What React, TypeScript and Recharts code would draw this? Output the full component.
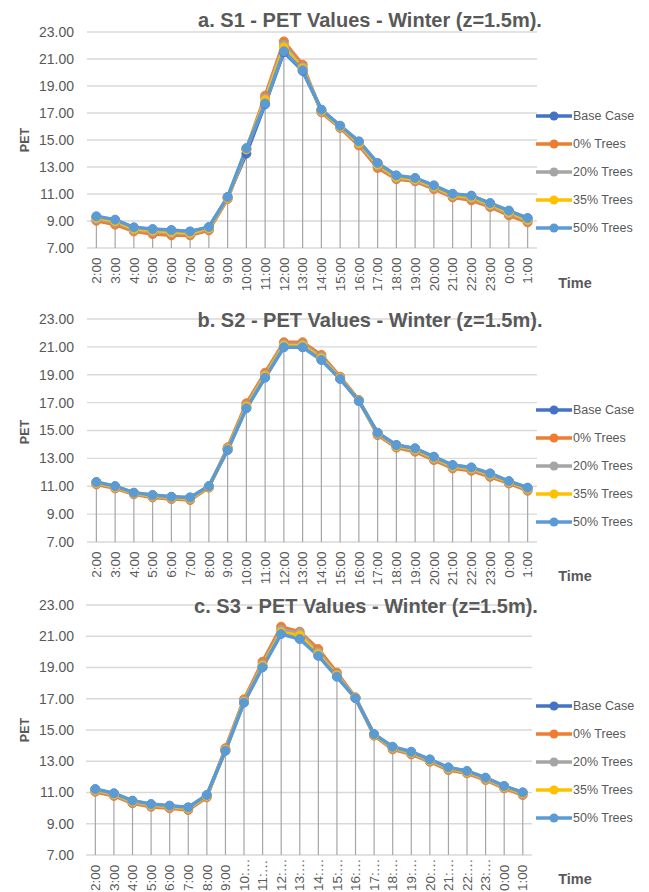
import React from "react";
import { Bar, CartesianGrid, ComposedChart, Line, XAxis, YAxis } from "recharts";

const FONT = "'Liberation Sans', Arial, sans-serif";
const TEXT = "#595959";

const hours = [
  "2:00", "3:00", "4:00", "5:00", "6:00", "7:00", "8:00", "9:00", "10:00", "11:00", "12:00", "13:00",
  "14:00", "15:00", "16:00", "17:00", "18:00", "19:00", "20:00", "21:00", "22:00", "23:00", "0:00", "1:00"
];
const yTicks = [7, 9, 11, 13, 15, 17, 19, 21, 23];

const seriesNames = ["Base Case", "0% Trees", "20% Trees", "35% Trees", "50% Trees"];
const seriesColors = ["#4472c4", "#ed7d31", "#a5a5a5", "#ffc000", "#5b9bd5"];

// S1
const s1Base = [9.3, 9.05, 8.5, 8.37, 8.3, 8.2, 8.53, 10.76, 13.99, 17.65, 21.5, 20.12, 17.22, 16.03, 14.86, 13.26, 12.35, 12.16, 11.6, 10.99, 10.85, 10.3, 9.74, 9.19];
const s1Trees0 = [9.02, 8.73, 8.23, 8.04, 7.94, 7.94, 8.31, 10.63, 14.3, 18.28, 22.3, 20.58, 17.05, 15.9, 14.6, 12.93, 12.1, 11.94, 11.37, 10.75, 10.53, 10.04, 9.42, 8.9];
const s1Trees20 = [9.15, 8.9, 8.35, 8.2, 8.1, 8.05, 8.42, 10.7, 14.3, 18.1, 22.05, 20.4, 17.12, 15.97, 14.72, 13.1, 12.2, 12.03, 11.48, 10.86, 10.68, 10.15, 9.55, 9.02];
const s1Trees35 = [9.25, 9.0, 8.43, 8.3, 8.2, 8.12, 8.48, 10.72, 14.35, 17.95, 21.85, 20.3, 17.18, 16.0, 14.8, 13.2, 12.28, 12.1, 11.55, 10.93, 10.78, 10.23, 9.65, 9.1];
const s1Trees50 = [9.35, 9.1, 8.53, 8.4, 8.33, 8.23, 8.56, 10.78, 14.4, 17.7, 21.57, 20.17, 17.25, 16.06, 14.9, 13.3, 12.38, 12.19, 11.64, 11.02, 10.88, 10.33, 9.77, 9.22];

// S2
const s2Base = [11.28, 10.99, 10.52, 10.35, 10.23, 10.18, 11.0, 13.62, 16.62, 18.82, 21.0, 21.0, 20.1, 18.72, 17.12, 14.82, 13.94, 13.7, 13.1, 12.5, 12.33, 11.9, 11.35, 10.88];
const s2Trees0 = [11.13, 10.85, 10.42, 10.2, 10.08, 10.01, 10.9, 13.79, 16.95, 19.15, 21.33, 21.33, 20.42, 18.86, 17.19, 14.67, 13.77, 13.48, 12.88, 12.28, 12.11, 11.68, 11.2, 10.68];
const s2Trees20 = [11.2, 10.92, 10.47, 10.27, 10.15, 10.09, 10.94, 13.72, 16.8, 19.0, 21.18, 21.18, 20.27, 18.79, 17.15, 14.74, 13.85, 13.58, 12.98, 12.38, 12.21, 11.78, 11.27, 10.77];
const s2Trees35 = [11.25, 10.96, 10.5, 10.32, 10.2, 10.14, 10.97, 13.66, 16.7, 18.9, 21.08, 21.08, 20.17, 18.75, 17.13, 14.79, 13.9, 13.65, 13.05, 12.45, 12.28, 11.85, 11.32, 10.83];
const s2Trees50 = [11.3, 11.01, 10.54, 10.37, 10.25, 10.2, 11.01, 13.6, 16.59, 18.79, 20.97, 20.97, 20.06, 18.7, 17.11, 14.84, 13.96, 13.72, 13.12, 12.52, 12.35, 11.92, 11.37, 10.9];

// S3
const s3Base = [11.2, 10.93, 10.46, 10.24, 10.14, 10.03, 10.82, 13.68, 16.77, 19.05, 21.18, 20.88, 19.8, 18.44, 17.04, 14.72, 13.9, 13.58, 13.1, 12.58, 12.36, 11.93, 11.4, 10.99];
const s3Trees0 = [11.05, 10.78, 10.31, 10.09, 9.99, 9.88, 10.69, 13.83, 16.96, 19.37, 21.61, 21.29, 20.18, 18.67, 17.09, 14.64, 13.76, 13.44, 12.97, 12.44, 12.23, 11.8, 11.27, 10.84];
const s3Trees20 = [11.12, 10.85, 10.38, 10.16, 10.06, 9.95, 10.75, 13.76, 16.87, 19.2, 21.4, 21.2, 19.98, 18.55, 17.06, 14.68, 13.83, 13.51, 13.03, 12.51, 12.29, 11.86, 11.33, 10.91];
const s3Trees35 = [11.17, 10.9, 10.43, 10.21, 10.11, 10.0, 10.79, 13.71, 16.8, 19.1, 21.25, 21.05, 19.85, 18.48, 17.05, 14.71, 13.88, 13.56, 13.07, 12.56, 12.33, 11.9, 11.37, 10.96];
const s3Trees50 = [11.22, 10.95, 10.48, 10.26, 10.16, 10.05, 10.84, 13.66, 16.75, 19.01, 21.14, 20.82, 19.74, 18.41, 17.03, 14.74, 13.93, 13.61, 13.12, 12.61, 12.38, 11.95, 11.42, 11.01];

const panels = [
  {
    title: "a. S1 - PET Values - Winter (z=1.5m).",
    series: [s1Base, s1Trees0, s1Trees20, s1Trees35, s1Trees50],
    top: 0, height: 295, plotTop: 32, plotBottom: 248, left: 87, right: 112, axisHeight: 40, tickDy: 1.5,
    truncate: false, titleX: 370, titleY: 20, legendY: 116, timeY: 283, petY: 140
  },
  {
    title: "b. S2 - PET Values - Winter (z=1.5m).",
    series: [s2Base, s2Trees0, s2Trees20, s2Trees35, s2Trees50],
    top: 295, height: 295, plotTop: 24, plotBottom: 247, left: 87, right: 112, axisHeight: 40, tickDy: 1.5,
    truncate: false, titleX: 370, titleY: 25, legendY: 115, timeY: 281, petY: 137
  },
  {
    title: "c. S3 - PET Values - Winter (z=1.5m).",
    series: [s3Base, s3Trees0, s3Trees20, s3Trees35, s3Trees50],
    top: 590, height: 302, plotTop: 15, plotBottom: 265, left: 86, right: 117, axisHeight: 30, tickDy: 28,
    truncate: true, titleX: 366, titleY: 16, legendY: 116, timeY: 289, petY: 140
  }
];

const keys = ["base", "t0", "t20", "t35", "t50"];

// panel c has cramped labels: excel cuts them and lines them up at the bottom
function HourTick(props: any) {
  const { x, y, payload, truncate, dy } = props;
  let label = String(payload.value);
  if (truncate && label.length >= 5) label = label.slice(0, 3) + "\u2026";
  const ty = y + dy;
  return (
    <text
      x={0}
      y={0}
      transform={`translate(${x}, ${ty}) rotate(-90)`}
      textAnchor={truncate ? "start" : "end"}
      dy="0.35em"
      fill={TEXT}
      fontSize={13.5}
      fontFamily={FONT}
    >
      {label}
    </text>
  );
}

function DropLine(props: any) {
  const { x, y, width, height } = props;
  const cx = x + width / 2;
  return <line x1={cx} x2={cx} y1={y} y2={y + height} stroke="#a6a6a6" strokeWidth={1.2} />;
}

function Panel({ cfg }: { cfg: any }) {
  const rows = hours.map((h, i) => {
    const row: any = { hour: h };
    keys.forEach((k, s) => (row[k] = cfg.series[s][i]));
    row.top = Math.max(...cfg.series.map((s: number[]) => s[i]));
    return row;
  });

  return (
    <div style={{ position: "absolute", left: 0, top: cfg.top, width: 649, height: cfg.height }}>
      <ComposedChart
        width={649}
        height={cfg.height}
        data={rows}
        margin={{ top: cfg.plotTop, right: cfg.right, left: 0, bottom: cfg.height - cfg.plotBottom - cfg.axisHeight }}
        style={{ overflow: "visible" }}
      >
        <CartesianGrid vertical={false} stroke="#d9d9d9" strokeWidth={1.3} />
        <XAxis
          dataKey="hour"
          interval={0}
          axisLine={false}
          tickLine={false}
          height={cfg.axisHeight}
          tick={(p: any) => <HourTick {...p} truncate={cfg.truncate} dy={cfg.tickDy} />}
        />
        <YAxis
          domain={[7, 23]}
          ticks={yTicks}
          width={cfg.left}
          axisLine={false}
          tickLine={false}
          tickMargin={cfg.left - 80}
          tickFormatter={(v: number) => v.toFixed(2)}
          tick={{ fill: TEXT, fontSize: 14, fontFamily: FONT }}
        />
        <Bar dataKey="top" isAnimationActive={false} shape={DropLine} />
        {keys.map((k, s) => (
          <Line
            key={k}
            type="linear"
            dataKey={k}
            stroke={seriesColors[s]}
            strokeWidth={3.5}
            dot={{ r: 4.5, fill: seriesColors[s], stroke: seriesColors[s], strokeWidth: 1 }}
            activeDot={false}
            isAnimationActive={false}
          />
        ))}
      </ComposedChart>

      <div
        style={{
          position: "absolute", left: cfg.titleX, top: cfg.titleY, transform: "translate(-50%, -50%)",
          whiteSpace: "nowrap", fontFamily: FONT, fontWeight: "bold", fontSize: 20, color: TEXT
        }}
      >
        {cfg.title}
      </div>

      <div
        style={{
          position: "absolute", left: 25, top: cfg.petY, transform: "translate(-50%, -50%) rotate(-90deg)",
          fontFamily: FONT, fontWeight: "bold", fontSize: 12.5, color: TEXT
        }}
      >
        PET
      </div>

      <div
        style={{
          position: "absolute", left: 575, top: cfg.timeY, transform: "translate(-50%, -50%)",
          fontFamily: FONT, fontWeight: "bold", fontSize: 14.5, color: TEXT
        }}
      >
        Time
      </div>

      {seriesNames.map((name, s) => (
        <div key={name} style={{ position: "absolute", left: 536, top: cfg.legendY + s * 28 - 10, height: 20 }}>
          <svg width={37} height={20} style={{ position: "absolute", left: 0, top: 0 }}>
            <line x1={0} x2={36} y1={10} y2={10} stroke={seriesColors[s]} strokeWidth={3.5} />
            <circle cx={18} cy={10} r={4.5} fill={seriesColors[s]} />
          </svg>
          <div
            style={{
              position: "absolute", left: 37, top: 10, transform: "translateY(-50%)",
              fontFamily: FONT, fontSize: 12.5, color: TEXT, whiteSpace: "nowrap"
            }}
          >
            {name}
          </div>
        </div>
      ))}
    </div>
  );
}

export default function App() {
  return (
    <div style={{ position: "absolute", left: 0, top: 0, width: 649, height: 892, background: "#fff", overflow: "hidden" }}>
      {panels.map((cfg) => (
        <Panel key={cfg.title} cfg={cfg} />
      ))}
    </div>
  );
}
